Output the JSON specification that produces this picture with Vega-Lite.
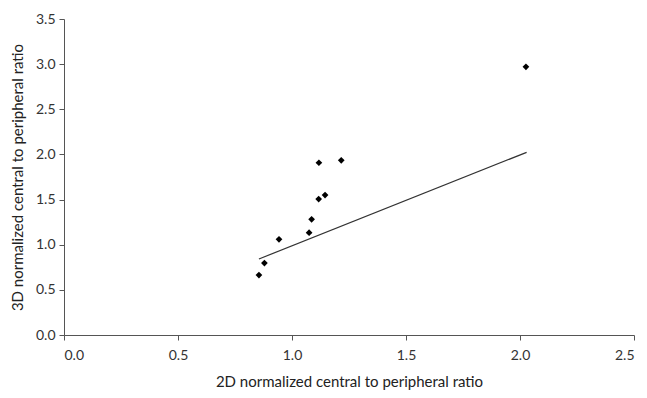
{
  "$schema": "https://vega.github.io/schema/vega-lite/v6.json",
  "width": 570,
  "height": 316,
  "autosize": {"type": "none"},
  "padding": {"left": 64, "top": 19, "right": 13, "bottom": 63},
  "background": "white",
  "config": {
    "view": {"stroke": null},
    "font": "Lato",
    "axis": {
      "grid": false,
      "domainColor": "#555555",
      "tickColor": "#555555",
      "labelColor": "#333333",
      "titleColor": "#222222",
      "labelFont": "Lato",
      "titleFont": "Lato",
      "labelFontSize": 14,
      "titleFontSize": 15,
      "titleFontWeight": "normal",
      "tickSize": 5
    }
  },
  "datasets": {
    "points": [
      {"x2d": 2.026, "y3d": 2.97},
      {"x2d": 1.118, "y3d": 1.908},
      {"x2d": 1.216, "y3d": 1.935},
      {"x2d": 1.117, "y3d": 1.506},
      {"x2d": 1.145, "y3d": 1.55},
      {"x2d": 1.086, "y3d": 1.281},
      {"x2d": 1.075, "y3d": 1.133},
      {"x2d": 0.943, "y3d": 1.06},
      {"x2d": 0.879, "y3d": 0.797},
      {"x2d": 0.855, "y3d": 0.664}
    ],
    "line": [
      {"x2d": 0.855, "y3d": 0.842},
      {"x2d": 2.029, "y3d": 2.023}
    ]
  },
  "layer": [
    {
      "data": {"name": "line"},
      "mark": {"type": "line", "color": "#333333", "strokeWidth": 1.2},
      "encoding": {
        "x": {"field": "x2d", "type": "quantitative"},
        "y": {"field": "y3d", "type": "quantitative"}
      }
    },
    {
      "data": {"name": "points"},
      "mark": {"type": "point", "shape": "diamond", "filled": true, "color": "black", "size": 45, "opacity": 1},
      "encoding": {
        "x": {
          "field": "x2d", "type": "quantitative",
          "scale": {"domain": [0, 2.5], "nice": false},
          "axis": {"values": [0, 0.5, 1, 1.5, 2, 2.5], "format": ".1f", "title": "2D normalized central to peripheral ratio", "titlePadding": 12, "labelPadding": 8}
        },
        "y": {
          "field": "y3d", "type": "quantitative",
          "scale": {"domain": [0, 3.5], "nice": false},
          "axis": {"values": [0, 0.5, 1, 1.5, 2, 2.5, 3, 3.5], "format": ".1f", "title": "3D normalized central to peripheral ratio", "titlePadding": 10, "labelPadding": 4}
        }
      }
    }
  ]
}
